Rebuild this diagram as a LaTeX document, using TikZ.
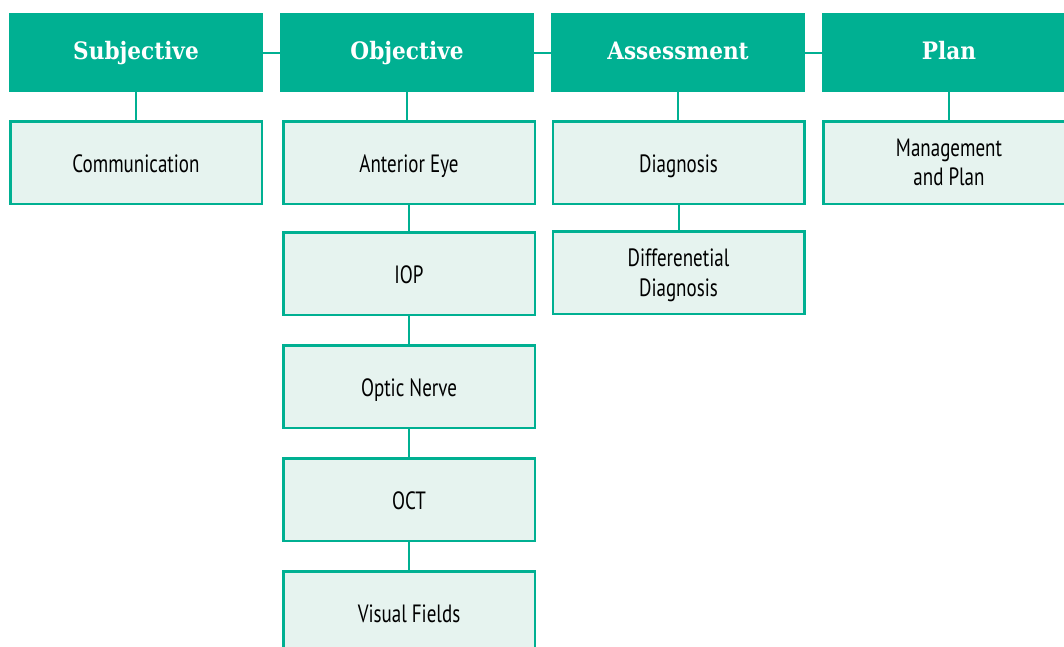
\documentclass[tikz,border=0pt]{standalone}
\usepackage{fontspec}
\setmainfont{PT Sans}
\newfontfamily\hdrfont[FakeStretch=0.9]{DejaVu Serif}
\newfontfamily\boxfont[FakeStretch=0.76]{PT Sans}
\definecolor{teal}{RGB}{0,176,146}
\definecolor{boxfill}{RGB}{230,243,239}
\tikzset{
  hdr/.style={rectangle, fill=teal, minimum width=254pt, minimum height=79pt, inner sep=0pt,
    text=white, text height=18pt, text depth=4pt,
    font=\hdrfont\bfseries\fontsize{24}{28}\selectfont},
  item/.style={rectangle, draw=teal, line width=2.5pt, fill=boxfill, minimum width=251.5pt,
    minimum height=82.5pt, inner sep=0pt, align=center, text=black,
    font=\boxfont\fontsize{25}{29.5}\selectfont},
  oneline/.style={item, text height=19.5pt, text depth=0pt},
  link/.style={draw=teal, line width=2pt}
}
\begin{document}
\begin{tikzpicture}[x=1pt, y=-1pt]
\useasboundingbox (0,0) rectangle (1064,646);
\clip (0,0) rectangle (1064,646);
% headers
\node[hdr] (subj) at (136,52.5) {Subjective};
\node[hdr] (obj) at (407,52.5) {Objective};
\node[hdr] (ass) at (678,52.5) {Assessment};
\node[hdr] (plan) at (949,52.5) {Plan};
% boxes
\node[oneline] (comm) at (136,162.5) {Communication};
\node[oneline] (ant) at (409,162.5) {Anterior Eye};
\node[oneline] (iop) at (409,273.5) {IOP};
\node[oneline] (optic) at (409,386.5) {Optic Nerve};
\node[oneline] (oct) at (409,499.5) {OCT};
\node[oneline] (vf) at (409,612.5) {Visual Fields};
\node[oneline] (diag) at (678.5,162.5) {Diagnosis};
\node[item] (ddiag) at (678.5,272.5) {Differenetial\\\raisebox{0pt}[\height][0pt]{Diagnosis}};
\node[item] (mgmt) at (949,162.5) {Management\\and Plan};
% header links
\draw[link] (subj.east) -- (obj.west);
\draw[link] (obj.east) -- (ass.west);
\draw[link] (ass.east) -- (plan.west);
% vertical links
\draw[link] (subj.south) -- (subj.south |- comm.north);
\draw[link] (obj.south) -- (obj.south |- ant.north);
\draw[link] (ass.south) -- (ass.south |- diag.north);
\draw[link] (plan.south) -- (plan.south |- mgmt.north);
\draw[link] (ant.south) -- (iop.north);
\draw[link] (iop.south) -- (optic.north);
\draw[link] (optic.south) -- (oct.north);
\draw[link] (oct.south) -- (vf.north);
\draw[link] (diag.south) -- (ddiag.north);
\end{tikzpicture}
\end{document}
